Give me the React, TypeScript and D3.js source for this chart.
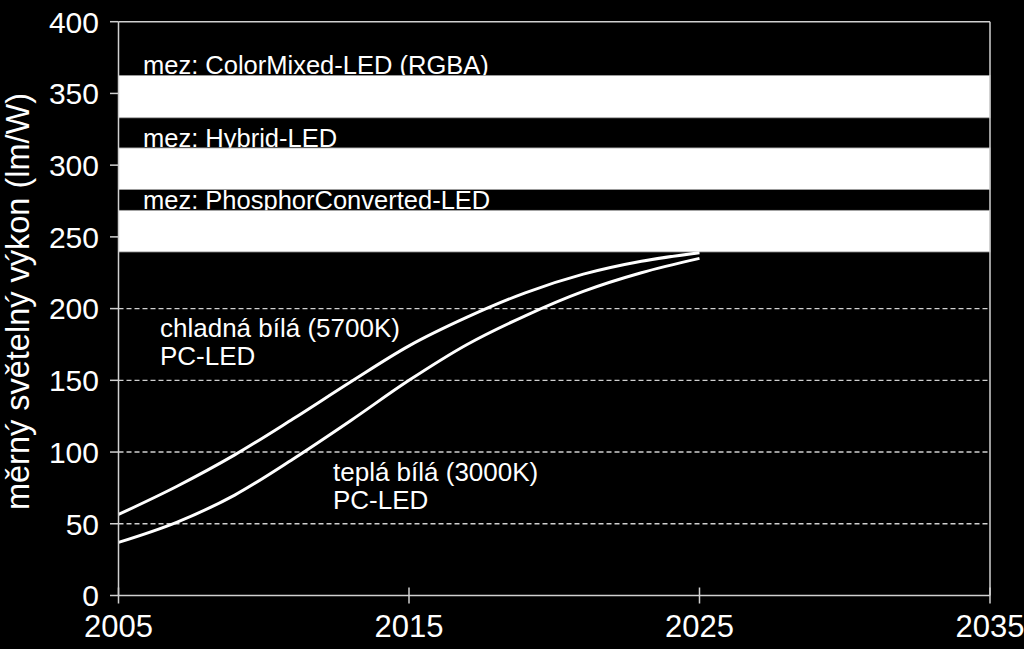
import React from "react";
import * as d3 from "d3";

const years = [2005, 2007, 2009, 2011, 2013, 2015, 2017, 2019, 2021, 2023, 2025];
const coolWhite = [56.5, 76, 98, 123, 149, 174, 194, 211, 224, 233, 239];
const warmWhite = [37, 51, 70, 95, 122, 150, 175, 195, 212, 225, 235];

const bandLabels = ["mez: ColorMixed-LED (RGBA)", "mez: Hybrid-LED", "mez: PhosphorConverted-LED"];
const bandLow = [333, 283, 239.5];
const bandHigh = [362.5, 312, 268.5];

const yTicks = [0, 50, 100, 150, 200, 250, 300, 350, 400];
const xTicks = [2005, 2015, 2025, 2035];

const W = 1024;
const H = 649;
const L = 118.5;
const R = 990;
const T = 21.7;
const B = 595.5;
const FONT = "'Liberation Sans', Arial, sans-serif";

export default function App() {
  const x = d3.scaleLinear().domain([2005, 2035]).range([L, R]);
  const y = d3.scaleLinear().domain([0, 400]).range([B, T]);
  const line = d3
    .line<number>()
    .x((_, i) => x(years[i]))
    .y((d) => y(d))
    .curve(d3.curveMonotoneX);

  const axisColor = "#d0d0d0";

  return (
    <div style={{ position: "fixed", left: 0, top: 0, width: W, height: H, background: "#000" }}>
      <svg width={W} height={H} style={{ display: "block" }} fontFamily={FONT}>
        <rect x={0} y={0} width={W} height={H} fill="#000" />
        {/* gridlines */}
        {yTicks
          .filter((t) => t > 0 && t < 400)
          .map((t) => (
            <line
              key={"g" + t}
              x1={L}
              x2={R}
              y1={y(t)}
              y2={y(t)}
              stroke="#d0d0d0"
              strokeWidth={1.4}
              strokeDasharray="5,3"
            />
          ))}
        {/* band labels (drawn beneath bands) */}
        {bandLabels.map((lab, i) => (
          <text key={"bl" + i} x={143} y={y(bandHigh[i]) - 1} fill="#fff" fontSize={25.5}>
            {lab}
          </text>
        ))}
        {/* bands */}
        {bandLabels.map((lab, i) => (
          <rect
            key={"b" + i}
            x={L}
            width={R - L}
            y={y(bandHigh[i])}
            height={y(bandLow[i]) - y(bandHigh[i])}
            fill="#fff"
            stroke="#a0a0a0"
            strokeWidth={0.8}
          />
        ))}
        {/* curves */}
        <path d={line(coolWhite) || ""} fill="none" stroke="#fff" strokeWidth={3} />
        <path d={line(warmWhite) || ""} fill="none" stroke="#fff" strokeWidth={3} />
        {/* curve labels */}
        <text x={160} y={337} fill="#fff" fontSize={26}>
          chladná bílá (5700K)
        </text>
        <text x={160} y={365} fill="#fff" fontSize={26}>
          PC-LED
        </text>
        <text x={333} y={481} fill="#fff" fontSize={26}>
          teplá bílá (3000K)
        </text>
        <text x={333} y={509} fill="#fff" fontSize={26}>
          PC-LED
        </text>
        {/* frame */}
        <line x1={L} x2={R} y1={T} y2={T} stroke={axisColor} strokeWidth={1.5} />
        <line x1={R} x2={R} y1={T} y2={B} stroke={axisColor} strokeWidth={1.5} />
        {/* y axis */}
        <line x1={L} x2={L} y1={T} y2={B} stroke={axisColor} strokeWidth={1.5} />
        {yTicks.map((t) => (
          <g key={"yt" + t}>
            <line x1={L - 8.5} x2={L} y1={y(t)} y2={y(t)} stroke={axisColor} strokeWidth={1.5} />
            <text x={99} y={y(t)} dy="0.36em" textAnchor="end" fill="#fff" fontSize={30}>
              {t}
            </text>
          </g>
        ))}
        {/* x axis */}
        <line x1={L} x2={R} y1={B} y2={B} stroke={axisColor} strokeWidth={1.5} />
        {xTicks.map((t) => (
          <g key={"xt" + t}>
            <line x1={x(t)} x2={x(t)} y1={B - 8} y2={B + 8} stroke={axisColor} strokeWidth={1.5} />
            <text x={x(t)} y={637} textAnchor="middle" fill="#fff" fontSize={31}>
              {t}
            </text>
          </g>
        ))}
        {/* y title */}
        <text
          transform={`translate(29,301.5) rotate(-90)`}
          textAnchor="middle"
          fill="#fff"
          fontSize={32.5}
        >
          měrný světelný výkon (lm/W)
        </text>
      </svg>
    </div>
  );
}
